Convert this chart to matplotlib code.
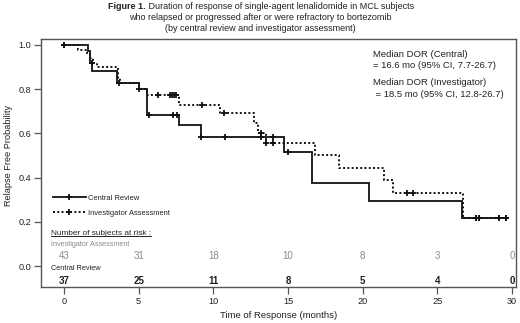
import numpy as np
import matplotlib
matplotlib.use("Agg")
import matplotlib.pyplot as plt
from matplotlib.lines import Line2D

plt.rcParams['font.family'] = ['Liberation Sans', 'DejaVu Sans']

# ---- data ----
central_t = [0, 1.59, 1.74, 1.90, 3.55, 5.0, 5.58, 7.72, 9.18, 14.74, 16.6, 20.4, 26.65, 29.7]
central_s = [1.0, 0.973, 0.919, 0.884, 0.828, 0.80, 0.683, 0.638, 0.585, 0.517, 0.374, 0.294, 0.216, 0.216]
central_cens = [0.0, 1.85, 3.7, 5.0, 5.7, 7.3, 7.55, 9.2, 10.8, 13.2, 14.0, 15.0, 27.6, 27.8, 29.1, 29.6]

inv_t = [0, 0.92, 1.52, 1.75, 1.97, 2.2, 3.64, 3.75, 5.0, 5.55, 7.72, 10.45, 12.7, 13.0, 13.5,
         16.8, 18.4, 21.4, 22.05, 26.7, 29.7]
inv_s = [1.0, 0.977, 0.965, 0.94, 0.92, 0.90, 0.85, 0.826, 0.80, 0.774, 0.728, 0.69, 0.645, 0.60, 0.555,
         0.50, 0.442, 0.389, 0.329, 0.216, 0.216]
inv_cens = [0.0, 6.3, 7.1, 7.25, 7.4, 7.5, 9.27, 10.7, 13.2, 13.55, 14.0, 22.95, 23.4, 27.6, 27.8, 29.1, 29.6]

risk_times = [0, 5, 10, 15, 20, 25, 30]
risk_inv = [43, 31, 18, 10, 8, 3, 0]
risk_central = [37, 25, 11, 8, 5, 4, 0]

x_ticks = [0, 5, 10, 15, 20, 25, 30]
y_ticks = [0.0, 0.2, 0.4, 0.6, 0.8, 1.0]

title_lines = ["Duration of response of single-agent lenalidomide in MCL subjects",
               "who relapsed or progressed after or were refractory to bortezomib",
               "(by central review and investigator assessment)"]

TXT = '#222222'
GRAY = '#8a8a8a'
TFS = 6.5


def surv_at(ts, ss, x):
    idx = np.searchsorted(ts, x, side='right') - 1
    return np.asarray(ss)[np.clip(idx, 0, len(ss) - 1)]


fig = plt.figure(figsize=(5.2, 3.23), dpi=100)
ax = fig.add_axes([41 / 520, 1 - 287 / 323, 475 / 520, 248 / 323])

ax.step(central_t, central_s, where='post', color='#111111', lw=1.3, solid_joinstyle='miter')
ax.plot(central_cens, surv_at(central_t, central_s, central_cens), ls='none', marker='+',
        ms=5, mew=1.3, color='#111111')
ax.step(inv_t, inv_s, where='post', color='#111111', lw=1.4, ls=(0, (1, 1.2)))
ax.plot(inv_cens, surv_at(inv_t, inv_s, inv_cens), ls='none', marker='+',
        ms=5, mew=1.3, color='#111111')

ax.set_xlim(-1.54, 30.27)
ax.set_ylim(-0.095, 1.027)
ax.set_xticks(x_ticks)
ax.set_yticks(y_ticks)
ax.set_yticklabels([f"{v:.1f}" for v in y_ticks])
ax.tick_params(direction='out', length=5, width=0.9, colors='#555555', labelsize=6.6,
               labelcolor=TXT, pad=2)
for sp in ax.spines.values():
    sp.set_color('#555555')
    sp.set_linewidth(1.0)

ax.set_ylabel("Relapse Free Probability", fontsize=6.6, color=TXT)
ax.yaxis.set_label_coords(-0.058, 0.53)
ax.set_xlabel("Time of Response (months)", fontsize=6.8, color=TXT, labelpad=4)

# legend
handles = [Line2D([0, 0.5, 1], [0, 0, 0], color='#111111', lw=1.3, marker='+', ms=5, mew=1.3, markevery=[1]),
           Line2D([0, 0.5, 1], [0, 0, 0], color='#111111', lw=1.4, ls=(0, (1, 1.2)), marker='+', ms=5, mew=1.3,
                  markevery=[1])]
leg = ax.legend(handles, ["Central Review", "Investigator Assessment"], loc='upper left',
                bbox_to_anchor=(0.01, 0.40), frameon=False, fontsize=5.4, handlelength=4.4,
                handletextpad=0.4, labelspacing=1.0, borderaxespad=0.5)
for t in leg.get_texts():
    t.set_color(TXT)

# annotations
ax.text(20.7, 0.955, "Median DOR (Central)", fontsize=6.8, color=TXT, va='center')
ax.text(20.7, 0.905, "= 16.6 mo (95% CI, 7.7-26.7)", fontsize=6.8, color=TXT, va='center')
ax.text(20.7, 0.828, "Median DOR (Investigator)", fontsize=6.8, color=TXT, va='center')
ax.text(20.7, 0.778, " = 18.5 mo (95% CI, 12.8-26.7)", fontsize=6.8, color=TXT, va='center')

# number at risk
hdr = ax.text(-0.87, 0.149, "Number of subjects at risk :", fontsize=5.95, color=TXT, va='center')
ax.text(-0.87, 0.097, "Investigator Assessment", fontsize=5.25, color=GRAY, va='center')
for x, n in zip(risk_times, risk_inv):
    ax.text(x, 0.045, str(n), fontsize=7, color=GRAY, ha='center', va='center')
ax.text(-0.87, -0.012, "Central Review", fontsize=5.3, color=TXT, va='center')
for x, n in zip(risk_times, risk_central):
    ax.text(x, -0.066, str(n), fontsize=7, color=TXT, ha='center', va='center', fontweight='bold')

# title
t0 = fig.text(0.5, 1 - 6.5 / 323, "Figure 1. " + title_lines[0], fontsize=TFS, color=TXT,
              ha='center', va='center', alpha=0)
fig.text(0.5, 1 - 17.5 / 323, title_lines[1], fontsize=TFS, color=TXT, ha='center', va='center')
fig.text(0.5, 1 - 28.5 / 323, title_lines[2], fontsize=TFS, color=TXT, ha='center', va='center')

fig.canvas.draw()
r = fig.canvas.get_renderer()
bb = t0.get_window_extent(r)
inv = fig.transFigure.inverted()
x0 = inv.transform((bb.x0, bb.y0))[0]
tb = fig.text(x0, 1 - 6.5 / 323, "Figure 1.", fontsize=TFS, color=TXT, fontweight='bold',
              ha='left', va='center')
fig.canvas.draw()
bbb = tb.get_window_extent(r)
x1 = inv.transform((bbb.x1, bbb.y0))[0]
fig.text(x1, 1 - 6.5 / 323, " " + title_lines[0], fontsize=TFS, color=TXT, ha='left', va='center')

# underline header
hb = hdr.get_window_extent(r)
(ux0, uy), (ux1, _) = inv.transform([(hb.x0, hb.y0 + 0.5), (hb.x1, hb.y0 + 0.5)])
fig.add_artist(Line2D([ux0, ux1], [uy, uy], transform=fig.transFigure, color=TXT, lw=0.7))

fig.savefig("out.png", dpi=100)
